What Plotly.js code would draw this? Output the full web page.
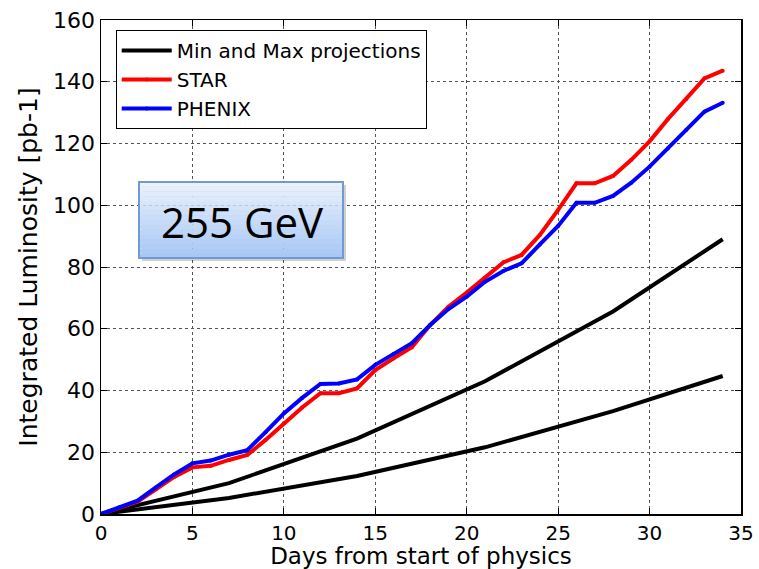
<!DOCTYPE html>
<html>
<head>
<meta charset="utf-8">
<script src="https://cdn.plot.ly/plotly-3.0.1.min.js"></script>
<style>html,body{margin:0;padding:0;background:#fff;}#chart{width:759px;height:569px;}</style>
</head>
<body>
<div id="chart"></div>
<script>
const days = [0,1,2,3,4,5,6,7,8,9,10,11,12,13,14,15,16,17,18,19,20,21,22,23,24,25,26,27,28,29,30,31,32,33,34];
const star = [0,2,4,8,12,15.1,15.6,17.5,19.1,24,29.4,34.5,39.1,39.1,40.7,46.6,50.4,54,61.2,67.1,71.7,76.5,81.5,83.9,90.4,98.5,107.1,107.1,109.5,114.7,120.7,127.9,134.3,141.1,143.6];
const phenix = [0,2.2,4.3,8.6,12.8,16.4,17.3,19.2,20.7,26.5,32.6,37.6,42.1,42.3,43.6,48.3,51.8,55.3,61.2,66.4,70.4,75.2,78.7,81.2,87.3,93.3,100.8,100.8,103,107.3,112.5,118.4,124.4,130.3,133.2];
const projDays = [0,7,14,21,28,34];
const projMax = [0,10,24.4,43,65.6,89];
const projMin = [0,5.2,12.3,21.6,33.3,44.7];

(function(){
const traces = [
  {x: projDays, y: projMax, mode:'lines', name:'Min and Max projections', legendgroup:'a', line:{color:'#000', width:4}},
  {x: projDays, y: projMin, mode:'lines', name:'Min', legendgroup:'a', showlegend:false, line:{color:'#000', width:4}},
  {x: days, y: star, mode:'lines+markers', name:'STAR', legendgroup:'b', line:{color:'#ff0000', width:4}, marker:{size:4, color:'#ff0000'}},
  {x: days, y: phenix, mode:'lines+markers', name:'PHENIX', legendgroup:'c', line:{color:'#0000ff', width:4}, marker:{size:4, color:'#0000ff'}}
];

const shapes = [];
const bx0 = 139, bx1 = 343, by0 = 182, by1 = 258;
const fx = v => (v-101)/640, fy = v => (514-v)/494;
shapes.push({type:'rect', xref:'paper', yref:'paper', x0:fx(bx0+3), x1:fx(bx1+3), y0:fy(by1+3), y1:fy(by0+3), fillcolor:'rgba(0,0,0,0.18)', line:{width:0}, layer:'above'});
const N = 16;
const cTop = [234,241,252], cBot = [166,200,246];
for (let i=0;i<N;i++){
  const t = i/(N-1);
  const c = cTop.map((v,k)=>Math.round(v+(cBot[k]-v)*t));
  const ya = by0 + (by1-by0)*i/N, yb = by0 + (by1-by0)*(i+1)/N;
  shapes.push({type:'rect', xref:'paper', yref:'paper', x0:fx(bx0), x1:fx(bx1), y0:fy(yb), y1:fy(ya), fillcolor:`rgb(${c[0]},${c[1]},${c[2]})`, line:{width:0}, layer:'above'});
}
shapes.push({type:'rect', xref:'paper', yref:'paper', x0:fx(bx0), x1:fx(bx1), y0:fy(by1), y1:fy(by0), fillcolor:'rgba(0,0,0,0)', line:{color:'#6f9bd0', width:2}, layer:'above'});

const layout = {
  width:759, height:569,
  margin:{l:101, r:18, t:20, b:55},
  paper_bgcolor:'#fff', plot_bgcolor:'#fff',
  font:{family:'DejaVu Sans, sans-serif', size:22, color:'#000'},
  xaxis:{range:[0,35], dtick:5, tick0:0, showline:true, linecolor:'#000', linewidth:1.5, mirror:'ticks', ticks:'inside', ticklen:6, tickcolor:'#000', showgrid:true, gridcolor:'#555', griddash:'dot', gridwidth:1, zeroline:false, automargin:false,
    title:{text:'Days from start of physics', font:{size:23}, standoff:4}, tickfont:{size:20}},
  yaxis:{range:[0,160], dtick:20, tick0:0, showline:true, linecolor:'#000', linewidth:1.5, mirror:'ticks', ticks:'inside', ticklen:6, tickcolor:'#000', showgrid:true, gridcolor:'#555', griddash:'dot', gridwidth:1, zeroline:false, automargin:false,
    title:{text:'Integrated Luminosity [pb-1]', font:{size:25}, standoff:8}, tickfont:{size:22}},
  legend:{x:0.023, y:0.98, xanchor:'left', yanchor:'top', bgcolor:'#fff', bordercolor:'#000', borderwidth:1, font:{size:20}, itemwidth:50, traceorder:'grouped', tracegroupgap:0},
  shapes: shapes,
  annotations:[{xref:'paper', yref:'paper', x:fx(242), y:fy(221), text:'255 GeV', showarrow:false, font:{family:'Open Sans, sans-serif', size:42, color:'#000'}, xanchor:'center', yanchor:'middle'}]
};
Plotly.newPlot('chart', traces, layout, {displayModeBar:false, staticPlot:true});
})();
</script>
</body>
</html>
